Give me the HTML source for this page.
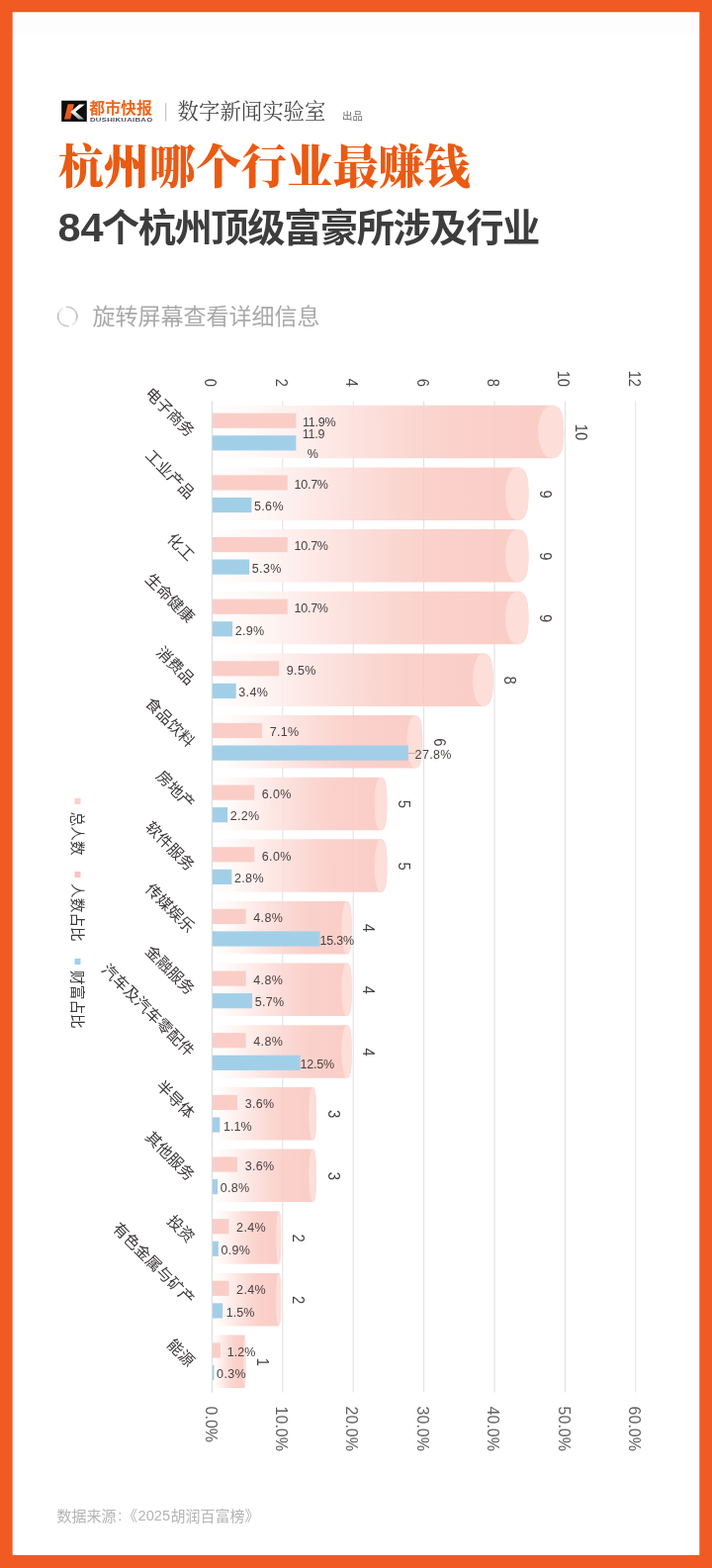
<!DOCTYPE html>
<html lang="zh"><head><meta charset="utf-8"><title>杭州哪个行业最赚钱</title>
<style>
html,body{margin:0;padding:0;background:#fff}
body{width:720px;height:1585px;overflow:hidden;position:relative;font-family:"Liberation Sans","Noto Sans CJK SC",sans-serif}
.frame{position:absolute;left:0;top:0;width:720px;height:1585px;box-sizing:border-box;border:12px solid #f15a23;background:#fff}
svg{will-change:transform;position:absolute;left:0;top:0;font-family:"Liberation Sans","Noto Sans CJK SC",sans-serif}
.cjk{font-family:"Liberation Sans","Noto Sans CJK SC",sans-serif}
.cjkserif{font-family:"Liberation Serif","Noto Serif CJK SC",serif}
</style></head><body>
<div class="frame"></div>
<svg width="720" height="1585" viewBox="0 0 720 1585">
<path fill-rule="evenodd" fill="#f15a23" d="M0 0H720V1585H0ZM12.7 12.3V1571.9H707.3V12.3Z"/><rect x="13" y="14" width="694" height="22" fill="#fdfdfd"/><g id="logo"><rect x="62.2" y="101.7" width="25.6" height="21.2" fill="#0d0d0d"/><defs><linearGradient id="kw" x1="0" y1="0" x2="0" y2="1"><stop offset="0" stop-color="#fff"/><stop offset="0.55" stop-color="#f4f4f4"/><stop offset="1" stop-color="#9a9a9a"/></linearGradient><linearGradient id="ko" x1="0" y1="0" x2="0" y2="1"><stop offset="0" stop-color="#f4631f"/><stop offset="1" stop-color="#e8501a"/></linearGradient></defs><path d="M68.6 105.2H74.9L71.2 120.6H65.0Z" fill="url(#ko)"/><path d="M85.8 105.4L76.4 113.0L85.0 120.6H79.4L71.3 113.3L80.2 105.4Z" fill="url(#kw)"/><text class="cjk" x="90.3" y="114.6" font-size="15.5" font-weight="bold" fill="#f0651a" textLength="63.5" lengthAdjust="spacingAndGlyphs">都市快报</text><text transform="translate(91.0,122.8) scale(0.865,0.5)" font-size="9" font-weight="bold" fill="#4a4f5e" letter-spacing="0.3">DUSHIKUAIBAO</text></g><rect x="167.2" y="104.2" width="1" height="18.4" fill="#b9b9b9"/><text class="cjkserif" x="179.6" y="120" font-size="21.4" fill="#484848">数字新闻实验室</text><text class="cjk" x="346" y="121" font-size="10.4" fill="#6e6e6e">出品</text><text class="cjkserif" x="58.7" y="185.2" font-size="46.3" font-weight="900" fill="#ea5a12" textLength="416.9" lengthAdjust="spacingAndGlyphs">杭州哪个行业最赚钱</text><text x="58.4" y="244.0" font-size="41" font-weight="bold" fill="#3d3d3d" textLength="46.2" lengthAdjust="spacingAndGlyphs">84</text><text class="cjk" x="102.8" y="244.3" font-size="38.3" font-weight="bold" fill="#3d3d3d" letter-spacing="-1.46">个杭州顶级富豪所涉及行业</text><g fill="none" stroke-width="1.7" stroke-linecap="round"><path d="M67.45 310.34A9.7 9.7 0 0 1 77.85 318.32" stroke="#cdcdcd"/><path d="M77.85 318.32A9.7 9.7 0 0 1 77.09 324.10" stroke="#c2c2c2"/><path d="M77.09 324.10A9.7 9.7 0 0 1 73.86 327.95" stroke="#e4e4e4"/><path d="M69.15 329.66A9.7 9.7 0 0 1 58.75 321.68" stroke="#cdcdcd"/><path d="M58.75 321.68A9.7 9.7 0 0 1 59.51 315.90" stroke="#c2c2c2"/><path d="M59.51 315.90A9.7 9.7 0 0 1 62.74 312.05" stroke="#e4e4e4"/></g><text class="cjk" x="93.4" y="328.3" font-size="23" fill="#a9a9a9">旋转屏幕查看详细信息</text><defs><linearGradient id="cyl" x1="0" y1="0" x2="1" y2="0"><stop offset="0" stop-color="#fffefd"/><stop offset="0.1" stop-color="#fffaf9"/><stop offset="0.2" stop-color="#fef3f1"/><stop offset="0.33" stop-color="#fde8e5"/><stop offset="0.45" stop-color="#fcdfdb"/><stop offset="0.55" stop-color="#fbd8d3"/><stop offset="0.68" stop-color="#fbd1cb"/><stop offset="1" stop-color="#facdc6"/></linearGradient></defs><rect x="213.90" y="405.5" width="1" height="1002" fill="#d3d6da"/><rect x="285.30" y="405.5" width="1" height="1002" fill="#e2e2e2"/><rect x="356.70" y="405.5" width="1" height="1002" fill="#e2e2e2"/><rect x="428.10" y="405.5" width="1" height="1002" fill="#e2e2e2"/><rect x="499.50" y="405.5" width="1" height="1002" fill="#e2e2e2"/><rect x="570.90" y="405.5" width="1" height="1002" fill="#e2e2e2"/><rect x="642.30" y="405.5" width="1" height="1002" fill="#e2e2e2"/><text transform="translate(213.1,391) rotate(90) scale(0.92,1)" text-anchor="end" y="5.6" font-size="16" fill="#504a4a">0</text><text transform="translate(284.5,391) rotate(90) scale(0.92,1)" text-anchor="end" y="5.6" font-size="16" fill="#504a4a">2</text><text transform="translate(355.9,391) rotate(90) scale(0.92,1)" text-anchor="end" y="5.6" font-size="16" fill="#504a4a">4</text><text transform="translate(427.3,391) rotate(90) scale(0.92,1)" text-anchor="end" y="5.6" font-size="16" fill="#504a4a">6</text><text transform="translate(498.7,391) rotate(90) scale(0.92,1)" text-anchor="end" y="5.6" font-size="16" fill="#504a4a">8</text><text transform="translate(570.1,391) rotate(90) scale(0.92,1)" text-anchor="end" y="5.6" font-size="16" fill="#504a4a">10</text><text transform="translate(641.5,391) rotate(90) scale(0.92,1)" text-anchor="end" y="5.6" font-size="16" fill="#504a4a">12</text><text transform="translate(213.2,1421.6) rotate(90)" y="5.6" font-size="16" fill="#606060">0.0%</text><text transform="translate(284.6,1421.6) rotate(90)" y="5.6" font-size="16" fill="#606060">10.0%</text><text transform="translate(356.0,1421.6) rotate(90)" y="5.6" font-size="16" fill="#606060">20.0%</text><text transform="translate(427.4,1421.6) rotate(90)" y="5.6" font-size="16" fill="#606060">30.0%</text><text transform="translate(498.8,1421.6) rotate(90)" y="5.6" font-size="16" fill="#606060">40.0%</text><text transform="translate(570.2,1421.6) rotate(90)" y="5.6" font-size="16" fill="#606060">50.0%</text><text transform="translate(641.6,1421.6) rotate(90)" y="5.6" font-size="16" fill="#606060">60.0%</text><path d="M214.9 409.8H557.21C566.82 409.77 570.20 416.73 570.20 436.52C570.20 456.32 566.82 463.27 557.21 463.27H214.9Z" fill="url(#cyl)"/><path d="M557.21 409.77C566.82 409.77 570.20 416.73 570.20 436.52C570.20 456.32 566.82 463.27 557.21 463.27C549.94 463.27 544.23 451.50 544.23 436.52C544.23 421.54 549.94 409.77 557.21 409.77Z" fill="#fde0d9" fill-opacity="0.92"/><path d="M214.9 472.4H522.77C531.41 472.42 534.45 479.38 534.45 499.17C534.45 518.97 531.41 525.92 522.77 525.92H214.9Z" fill="url(#cyl)"/><path d="M522.77 472.42C531.41 472.42 534.45 479.38 534.45 499.17C534.45 518.97 531.41 525.92 522.77 525.92C516.23 525.92 511.09 514.15 511.09 499.17C511.09 484.19 516.23 472.42 522.77 472.42Z" fill="#fde0d9" fill-opacity="0.92"/><path d="M214.9 535.1H522.77C531.41 535.08 534.45 542.03 534.45 561.83C534.45 581.62 531.41 588.58 522.77 588.58H214.9Z" fill="url(#cyl)"/><path d="M522.77 535.08C531.41 535.08 534.45 542.03 534.45 561.83C534.45 581.62 531.41 588.58 522.77 588.58C516.23 588.58 511.09 576.81 511.09 561.83C511.09 546.85 516.23 535.08 522.77 535.08Z" fill="#fde0d9" fill-opacity="0.92"/><path d="M214.9 597.7H522.77C531.41 597.73 534.45 604.68 534.45 624.48C534.45 644.27 531.41 651.23 522.77 651.23H214.9Z" fill="url(#cyl)"/><path d="M522.77 597.73C531.41 597.73 534.45 604.68 534.45 624.48C534.45 644.27 531.41 651.23 522.77 651.23C516.23 651.23 511.09 639.46 511.09 624.48C511.09 609.50 516.23 597.73 522.77 597.73Z" fill="#fde0d9" fill-opacity="0.92"/><path d="M214.9 660.4H488.32C496.00 660.38 498.70 667.33 498.70 687.12C498.70 706.92 496.00 713.88 488.32 713.88H214.9Z" fill="url(#cyl)"/><path d="M488.32 660.38C496.00 660.38 498.70 667.33 498.70 687.12C498.70 706.92 496.00 713.88 488.32 713.88C482.51 713.88 477.95 702.11 477.95 687.12C477.95 672.14 482.51 660.38 488.32 660.38Z" fill="#fde0d9" fill-opacity="0.92"/><path d="M214.9 723.0H419.43C425.18 723.02 427.20 729.98 427.20 749.77C427.20 769.57 425.18 776.52 419.43 776.52H214.9Z" fill="url(#cyl)"/><path d="M419.43 723.02C425.18 723.02 427.20 729.98 427.20 749.77C427.20 769.57 425.18 776.52 419.43 776.52C415.08 776.52 411.67 764.75 411.67 749.77C411.67 734.79 415.08 723.02 419.43 723.02Z" fill="#fde0d9" fill-opacity="0.92"/><path d="M214.9 785.7H384.99C389.77 785.67 391.45 792.63 391.45 812.42C391.45 832.22 389.77 839.17 384.99 839.17H214.9Z" fill="url(#cyl)"/><path d="M384.99 785.67C389.77 785.67 391.45 792.63 391.45 812.42C391.45 832.22 389.77 839.17 384.99 839.17C381.37 839.17 378.53 827.40 378.53 812.42C378.53 797.44 381.37 785.67 384.99 785.67Z" fill="#fde0d9" fill-opacity="0.92"/><path d="M214.9 848.3H384.99C389.77 848.33 391.45 855.28 391.45 875.08C391.45 894.87 389.77 901.83 384.99 901.83H214.9Z" fill="url(#cyl)"/><path d="M384.99 848.33C389.77 848.33 391.45 855.28 391.45 875.08C391.45 894.87 389.77 901.83 384.99 901.83C381.37 901.83 378.53 890.06 378.53 875.08C378.53 860.10 381.37 848.33 384.99 848.33Z" fill="#fde0d9" fill-opacity="0.92"/><path d="M214.9 911.0H350.54C354.36 910.97 355.70 917.93 355.70 937.72C355.70 957.52 354.36 964.47 350.54 964.47H214.9Z" fill="url(#cyl)"/><path d="M350.54 910.97C354.36 910.97 355.70 917.93 355.70 937.72C355.70 957.52 354.36 964.47 350.54 964.47C347.65 964.47 345.39 952.70 345.39 937.72C345.39 922.74 347.65 910.97 350.54 910.97Z" fill="#fde0d9" fill-opacity="0.92"/><path d="M214.9 973.6H350.54C354.36 973.62 355.70 980.58 355.70 1000.38C355.70 1020.17 354.36 1027.12 350.54 1027.12H214.9Z" fill="url(#cyl)"/><path d="M350.54 973.62C354.36 973.62 355.70 980.58 355.70 1000.38C355.70 1020.17 354.36 1027.12 350.54 1027.12C347.65 1027.12 345.39 1015.36 345.39 1000.38C345.39 985.39 347.65 973.62 350.54 973.62Z" fill="#fde0d9" fill-opacity="0.92"/><path d="M214.9 1036.3H350.54C354.36 1036.27 355.70 1043.23 355.70 1063.02C355.70 1082.82 354.36 1089.77 350.54 1089.77H214.9Z" fill="url(#cyl)"/><path d="M350.54 1036.27C354.36 1036.27 355.70 1043.23 355.70 1063.02C355.70 1082.82 354.36 1089.77 350.54 1089.77C347.65 1089.77 345.39 1078.00 345.39 1063.02C345.39 1048.04 347.65 1036.27 350.54 1036.27Z" fill="#fde0d9" fill-opacity="0.92"/><path d="M214.9 1098.9H316.10C318.95 1098.92 319.95 1105.88 319.95 1125.67C319.95 1145.47 318.95 1152.42 316.10 1152.42H214.9Z" fill="url(#cyl)"/><path d="M316.10 1098.92C318.95 1098.92 319.95 1105.88 319.95 1125.67C319.95 1145.47 318.95 1152.42 316.10 1152.42C313.94 1152.42 312.24 1140.65 312.24 1125.67C312.24 1110.69 313.94 1098.92 316.10 1098.92Z" fill="#fde0d9" fill-opacity="0.92"/><path d="M214.9 1161.6H316.10C318.95 1161.58 319.95 1168.53 319.95 1188.33C319.95 1208.12 318.95 1215.08 316.10 1215.08H214.9Z" fill="url(#cyl)"/><path d="M316.10 1161.58C318.95 1161.58 319.95 1168.53 319.95 1188.33C319.95 1208.12 318.95 1215.08 316.10 1215.08C313.94 1215.08 312.24 1203.31 312.24 1188.33C312.24 1173.35 313.94 1161.58 316.10 1161.58Z" fill="#fde0d9" fill-opacity="0.92"/><path d="M214.9 1224.2H281.65C283.54 1224.22 284.20 1231.18 284.20 1250.97C284.20 1270.77 283.54 1277.72 281.65 1277.72H214.9Z" fill="url(#cyl)"/><path d="M281.65 1224.22C283.54 1224.22 284.20 1231.18 284.20 1250.97C284.20 1270.77 283.54 1277.72 281.65 1277.72C280.23 1277.72 279.10 1265.95 279.10 1250.97C279.10 1235.99 280.23 1224.22 281.65 1224.22Z" fill="#fde0d9" fill-opacity="0.92"/><path d="M214.9 1286.9H281.65C283.54 1286.88 284.20 1293.83 284.20 1313.62C284.20 1333.42 283.54 1340.38 281.65 1340.38H214.9Z" fill="url(#cyl)"/><path d="M281.65 1286.88C283.54 1286.88 284.20 1293.83 284.20 1313.62C284.20 1333.42 283.54 1340.38 281.65 1340.38C280.23 1340.38 279.10 1328.61 279.10 1313.62C279.10 1298.64 280.23 1286.88 281.65 1286.88Z" fill="#fde0d9" fill-opacity="0.92"/><path d="M214.9 1349.5H247.21C248.13 1349.52 248.45 1356.48 248.45 1376.27C248.45 1396.07 248.13 1403.02 247.21 1403.02H214.9Z" fill="url(#cyl)"/><path d="M247.21 1349.52C248.13 1349.52 248.45 1356.48 248.45 1376.27C248.45 1396.07 248.13 1403.02 247.21 1403.02C246.51 1403.02 245.96 1391.25 245.96 1376.27C245.96 1361.29 246.51 1349.52 247.21 1349.52Z" fill="#fde0d9" fill-opacity="0.92"/><rect x="285.30" y="405.5" width="1" height="1002" fill="#7a5a55" fill-opacity="0.015"/><rect x="356.70" y="405.5" width="1" height="1002" fill="#7a5a55" fill-opacity="0.015"/><rect x="428.10" y="405.5" width="1" height="1002" fill="#7a5a55" fill-opacity="0.015"/><rect x="499.50" y="405.5" width="1" height="1002" fill="#7a5a55" fill-opacity="0.015"/><rect x="570.90" y="405.5" width="1" height="1002" fill="#7a5a55" fill-opacity="0.015"/><g><rect x="214.9" y="417.6" width="84.5" height="15.2" fill="#facec7"/><rect x="214.9" y="440.2" width="84.5" height="15.2" fill="#a2cfe8"/><text x="306.1" y="430.9" font-size="12.5" letter-spacing="-0.25" fill="#4a4040">11.9%</text><text x="305.7" y="443.2" font-size="12.5" letter-spacing="-0.25" fill="#4a4040">11.9</text><text x="316.5" y="463.2" text-anchor="middle" font-size="12.5" letter-spacing="0.35" fill="#4a4040">%</text><text transform="translate(587.5,437.0) rotate(90) scale(0.92,1)" text-anchor="middle" y="5.6" font-size="16" fill="#484242">10</text><g transform="translate(193.9,438.8) rotate(45)"><text class="cjk" x="0" y="5.4" text-anchor="end" font-size="15.6" fill="#3c3838">电子商务</text></g></g><g><rect x="214.9" y="480.3" width="75.9" height="15.2" fill="#facec7"/><rect x="214.9" y="502.9" width="39.5" height="15.2" fill="#a2cfe8"/><text x="297.5" y="493.6" font-size="12.5" letter-spacing="-0.25" fill="#4a4040">10.7%</text><text x="257.0" y="516.2" font-size="12.5" letter-spacing="0.35" fill="#4a4040">5.6%</text><text transform="translate(551.7,499.7) rotate(90) scale(0.92,1)" text-anchor="middle" y="5.6" font-size="16" fill="#484242">9</text><g transform="translate(193.9,501.5) rotate(45)"><text class="cjk" x="0" y="5.4" text-anchor="end" font-size="15.6" fill="#3c3838">工业产品</text></g></g><g><rect x="214.9" y="542.9" width="75.9" height="15.2" fill="#facec7"/><rect x="214.9" y="565.5" width="37.3" height="15.2" fill="#a2cfe8"/><text x="297.5" y="556.2" font-size="12.5" letter-spacing="-0.25" fill="#4a4040">10.7%</text><text x="254.8" y="578.8" font-size="12.5" letter-spacing="0.35" fill="#4a4040">5.3%</text><text transform="translate(551.7,562.3) rotate(90) scale(0.92,1)" text-anchor="middle" y="5.6" font-size="16" fill="#484242">9</text><g transform="translate(193.9,564.1) rotate(45)"><text class="cjk" x="0" y="5.4" text-anchor="end" font-size="15.6" fill="#3c3838">化工</text></g></g><g><rect x="214.9" y="605.6" width="75.9" height="15.2" fill="#facec7"/><rect x="214.9" y="628.2" width="20.2" height="15.2" fill="#a2cfe8"/><text x="297.5" y="618.9" font-size="12.5" letter-spacing="-0.25" fill="#4a4040">10.7%</text><text x="237.7" y="641.5" font-size="12.5" letter-spacing="0.35" fill="#4a4040">2.9%</text><text transform="translate(551.7,625.0) rotate(90) scale(0.92,1)" text-anchor="middle" y="5.6" font-size="16" fill="#484242">9</text><g transform="translate(193.9,626.8) rotate(45)"><text class="cjk" x="0" y="5.4" text-anchor="end" font-size="15.6" fill="#3c3838">生命健康</text></g></g><g><rect x="214.9" y="668.2" width="67.3" height="15.2" fill="#facec7"/><rect x="214.9" y="690.8" width="23.8" height="15.2" fill="#a2cfe8"/><text x="289.8" y="681.5" font-size="12.5" letter-spacing="0.35" fill="#4a4040">9.5%</text><text x="241.3" y="704.1" font-size="12.5" letter-spacing="0.35" fill="#4a4040">3.4%</text><text transform="translate(516.0,687.6) rotate(90) scale(0.92,1)" text-anchor="middle" y="5.6" font-size="16" fill="#484242">8</text><g transform="translate(193.9,689.4) rotate(45)"><text class="cjk" x="0" y="5.4" text-anchor="end" font-size="15.6" fill="#3c3838">消费品</text></g></g><g><rect x="214.9" y="730.9" width="50.2" height="15.2" fill="#facec7"/><rect x="214.9" y="753.5" width="198.0" height="15.2" fill="#a2cfe8"/><text x="272.7" y="744.2" font-size="12.5" letter-spacing="0.35" fill="#4a4040">7.1%</text><rect x="412.9" y="760.9" width="8" height="1" fill="#c9aaa6"/><text x="419.6" y="766.8" font-size="12.5" letter-spacing="0.35" fill="#4a4040">27.8%</text><text transform="translate(444.5,750.3) rotate(90) scale(0.92,1)" text-anchor="middle" y="5.6" font-size="16" fill="#484242">6</text><g transform="translate(193.9,752.1) rotate(45)"><text class="cjk" x="0" y="5.4" text-anchor="end" font-size="15.6" fill="#3c3838">食品饮料</text></g></g><g><rect x="214.9" y="793.5" width="42.3" height="15.2" fill="#facec7"/><rect x="214.9" y="816.1" width="15.2" height="15.2" fill="#a2cfe8"/><text x="264.8" y="806.8" font-size="12.5" letter-spacing="0.35" fill="#4a4040">6.0%</text><text x="232.7" y="829.4" font-size="12.5" letter-spacing="0.35" fill="#4a4040">2.2%</text><text transform="translate(408.8,812.9) rotate(90) scale(0.92,1)" text-anchor="middle" y="5.6" font-size="16" fill="#484242">5</text><g transform="translate(193.9,814.7) rotate(45)"><text class="cjk" x="0" y="5.4" text-anchor="end" font-size="15.6" fill="#3c3838">房地产</text></g></g><g><rect x="214.9" y="856.2" width="42.3" height="15.2" fill="#facec7"/><rect x="214.9" y="878.8" width="19.5" height="15.2" fill="#a2cfe8"/><text x="264.8" y="869.5" font-size="12.5" letter-spacing="0.35" fill="#4a4040">6.0%</text><text x="237.0" y="892.1" font-size="12.5" letter-spacing="0.35" fill="#4a4040">2.8%</text><text transform="translate(408.8,875.6) rotate(90) scale(0.92,1)" text-anchor="middle" y="5.6" font-size="16" fill="#484242">5</text><g transform="translate(193.9,877.4) rotate(45)"><text class="cjk" x="0" y="5.4" text-anchor="end" font-size="15.6" fill="#3c3838">软件服务</text></g></g><g><rect x="214.9" y="918.8" width="33.8" height="15.2" fill="#facec7"/><rect x="214.9" y="941.4" width="108.7" height="15.2" fill="#a2cfe8"/><text x="256.3" y="932.1" font-size="12.5" letter-spacing="0.35" fill="#4a4040">4.8%</text><text x="323.6" y="954.7" font-size="12.5" letter-spacing="-0.25" fill="#4a4040">15.3%</text><text transform="translate(373.0,938.2) rotate(90) scale(0.92,1)" text-anchor="middle" y="5.6" font-size="16" fill="#484242">4</text><g transform="translate(193.9,940.0) rotate(45)"><text class="cjk" x="0" y="5.4" text-anchor="end" font-size="15.6" fill="#3c3838">传媒娱乐</text></g></g><g><rect x="214.9" y="981.5" width="33.8" height="15.2" fill="#facec7"/><rect x="214.9" y="1004.1" width="40.2" height="15.2" fill="#a2cfe8"/><text x="256.3" y="994.8" font-size="12.5" letter-spacing="0.35" fill="#4a4040">4.8%</text><text x="257.7" y="1017.4" font-size="12.5" letter-spacing="0.35" fill="#4a4040">5.7%</text><text transform="translate(373.0,1000.9) rotate(90) scale(0.92,1)" text-anchor="middle" y="5.6" font-size="16" fill="#484242">4</text><g transform="translate(193.9,1002.7) rotate(45)"><text class="cjk" x="0" y="5.4" text-anchor="end" font-size="15.6" fill="#3c3838">金融服务</text></g></g><g><rect x="214.9" y="1044.1" width="33.8" height="15.2" fill="#facec7"/><rect x="214.9" y="1066.7" width="88.7" height="15.2" fill="#a2cfe8"/><text x="256.3" y="1057.4" font-size="12.5" letter-spacing="0.35" fill="#4a4040">4.8%</text><text x="303.6" y="1080.0" font-size="12.5" letter-spacing="-0.25" fill="#4a4040">12.5%</text><text transform="translate(373.0,1063.5) rotate(90) scale(0.92,1)" text-anchor="middle" y="5.6" font-size="16" fill="#484242">4</text><g transform="translate(193.9,1065.3) rotate(45)"><text class="cjk" x="0" y="5.4" text-anchor="end" font-size="15.6" fill="#3c3838">汽车及汽车零配件</text></g></g><g><rect x="214.9" y="1106.8" width="25.2" height="15.2" fill="#facec7"/><rect x="214.9" y="1129.4" width="7.4" height="15.2" fill="#a2cfe8"/><text x="247.7" y="1120.1" font-size="12.5" letter-spacing="0.35" fill="#4a4040">3.6%</text><text x="225.9" y="1142.7" font-size="12.5" letter-spacing="0.10" fill="#4a4040">1.1%</text><text transform="translate(337.2,1126.2) rotate(90) scale(0.92,1)" text-anchor="middle" y="5.6" font-size="16" fill="#484242">3</text><g transform="translate(193.9,1128.0) rotate(45)"><text class="cjk" x="0" y="5.4" text-anchor="end" font-size="15.6" fill="#3c3838">半导体</text></g></g><g><rect x="214.9" y="1169.4" width="25.2" height="15.2" fill="#facec7"/><rect x="214.9" y="1192.0" width="5.2" height="15.2" fill="#a2cfe8"/><text x="247.7" y="1182.7" font-size="12.5" letter-spacing="0.35" fill="#4a4040">3.6%</text><text x="222.7" y="1205.3" font-size="12.5" letter-spacing="0.35" fill="#4a4040">0.8%</text><text transform="translate(337.2,1188.8) rotate(90) scale(0.92,1)" text-anchor="middle" y="5.6" font-size="16" fill="#484242">3</text><g transform="translate(193.9,1190.6) rotate(45)"><text class="cjk" x="0" y="5.4" text-anchor="end" font-size="15.6" fill="#3c3838">其他服务</text></g></g><g><rect x="214.9" y="1232.1" width="16.6" height="15.2" fill="#facec7"/><rect x="214.9" y="1254.7" width="5.9" height="15.2" fill="#a2cfe8"/><text x="239.1" y="1245.4" font-size="12.5" letter-spacing="0.35" fill="#4a4040">2.4%</text><text x="223.4" y="1268.0" font-size="12.5" letter-spacing="0.35" fill="#4a4040">0.9%</text><text transform="translate(301.5,1251.5) rotate(90) scale(0.92,1)" text-anchor="middle" y="5.6" font-size="16" fill="#484242">2</text><g transform="translate(193.9,1253.3) rotate(45)"><text class="cjk" x="0" y="5.4" text-anchor="end" font-size="15.6" fill="#3c3838">投资</text></g></g><g><rect x="214.9" y="1294.7" width="16.6" height="15.2" fill="#facec7"/><rect x="214.9" y="1317.3" width="10.2" height="15.2" fill="#a2cfe8"/><text x="239.1" y="1308.0" font-size="12.5" letter-spacing="0.35" fill="#4a4040">2.4%</text><text x="228.7" y="1330.6" font-size="12.5" letter-spacing="0.10" fill="#4a4040">1.5%</text><text transform="translate(301.5,1314.1) rotate(90) scale(0.92,1)" text-anchor="middle" y="5.6" font-size="16" fill="#484242">2</text><g transform="translate(193.9,1315.9) rotate(45)"><text class="cjk" x="0" y="5.4" text-anchor="end" font-size="15.6" fill="#3c3838">有色金属与矿产</text></g></g><g><rect x="214.9" y="1357.4" width="8.1" height="15.2" fill="#facec7"/><rect x="214.9" y="1380.0" width="1.6" height="15.2" fill="#a2cfe8"/><text x="229.7" y="1370.7" font-size="12.5" letter-spacing="0.10" fill="#4a4040">1.2%</text><text x="219.1" y="1393.3" font-size="12.5" letter-spacing="0.35" fill="#4a4040">0.3%</text><text transform="translate(265.8,1376.8) rotate(90) scale(0.92,1)" text-anchor="middle" y="5.6" font-size="16" fill="#484242">1</text><g transform="translate(193.9,1378.6) rotate(45)"><text class="cjk" x="0" y="5.4" text-anchor="end" font-size="15.6" fill="#3c3838">能源</text></g></g><g transform="translate(78.5,0) rotate(90)"><rect x="807.0" y="-3" width="6" height="6" fill="#fbd0cb"/><text class="cjk" x="820.5" y="5.2" font-size="14.7" fill="#3c3838">总人数</text><rect x="881.0" y="-3" width="6" height="6" fill="#fbc4bd"/><text class="cjk" x="893" y="5.2" font-size="14.7" fill="#3c3838">人数占比</text><rect x="969.0" y="-3" width="6" height="6" fill="#a4cfe9"/><text class="cjk" x="981" y="5.2" font-size="14.7" fill="#3c3838">财富占比</text></g><text class="cjk" x="57.4" y="1537.5" font-size="15" fill="#b4b4b4">数据来源</text><text x="119.3" y="1537.2" font-size="15" fill="#b4b4b4">:</text><text class="cjk" x="124" y="1537.5" font-size="15" fill="#b4b4b4">《</text><text x="139.6" y="1537.3" font-size="14.6" fill="#b4b4b4">2025</text><text class="cjk" x="172.6" y="1537.5" font-size="15" fill="#b4b4b4">胡润百富榜》</text>
</svg>
</body></html>
